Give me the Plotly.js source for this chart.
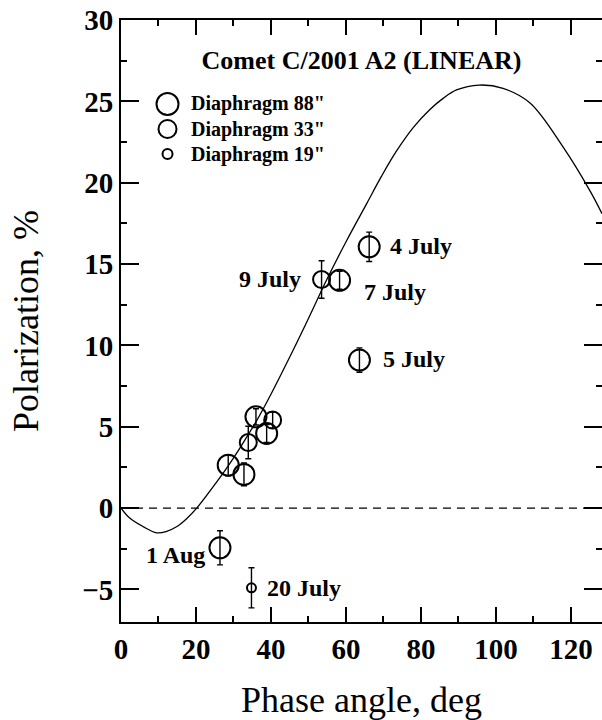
<!DOCTYPE html>
<html>
<head>
<meta charset="utf-8">
<script src="https://cdn.plot.ly/plotly-3.0.1.min.js"></script>
<style>html,body{margin:0;padding:0;background:#fff;}#chart{width:602px;height:720px;}</style>
</head>
<body>
<div id="chart"></div>
<script>
// ---- Data ----
// Model phase curve
const curveX = [0, 2.4, 6.0, 9.5, 12.0, 14.8, 17.5, 20.2, 25.5, 28.6, 32.0, 36.0, 40.0, 45.9, 50.4, 54.8, 60.2, 65.5, 69.5, 73.5, 78.0, 82.4, 86.0, 89.5, 95.5, 101.9, 109.1, 117.9, 125.1, 128.3];
const curveY = [0, -0.63, -1.15, -1.52, -1.45, -1.15, -0.65, 0, 1.6, 2.6, 3.8, 5.3, 7.0, 9.7, 11.85, 14.0, 16.45, 18.7, 20.4, 21.95, 23.4, 24.5, 25.2, 25.7, 26.0, 25.8, 24.9, 22.2, 19.5, 18.1];

// Observations, grouped by diaphragm
const d88X = [26.4, 66.2, 58.3, 63.6, 28.6, 32.8, 36.0, 38.85];
const d88Y = [-2.44, 16.06, 14.0, 9.1, 2.64, 2.07, 5.61, 4.59];
const d88E = [1.05, 0.9, 0.55, 0.75, 0.65, 0.7, 0.5, 0.55];

const d33X = [53.5, 33.95, 40.45];
const d33Y = [14.05, 4.03, 5.41];
const d33E = [1.15, 1.0, 0.5];

const d19X = [34.8];
const d19Y = [-4.9];
const d19E = [1.23];

const legendNames = ['Diaphragm 88"', 'Diaphragm 33"', 'Diaphragm 19"'];

// Date labels
const labelText = ['4 July', '9 July', '7 July', '5 July', '1 Aug', '20 July'];
const labelX = [71.2, 48.6, 64.3, 69.3, 23.0, 38.4];
const labelY = [16.1, 14.1, 13.3, 9.15, -2.9, -4.9];
const labelAnchor = ['left', 'right', 'left', 'left', 'right', 'left'];

// Axis ranges and tick spacing
const xRange = [0, 128.3], yRange = [-7, 30];
const xTick0 = 0, xDtick = 20, xMinorDtick = 10;
const yTick0 = 0, yDtick = 5, yMinorDtick = 2.5;

// ---- Styling ----
const SERIF = 'Liberation Serif, Times New Roman, serif';
const markerSizes = [21, 17, 9];

function obsTrace(x, y, e, size, name) {
  return {
    type: 'scatter', mode: 'markers', x: x, y: y, name: name, showlegend: false,
    marker: {symbol: 'circle-open', size: size, color: 'black', line: {color: 'black', width: 2}},
    error_y: {type: 'data', array: e, visible: true, color: 'black', thickness: 1.4, width: 3}
  };
}

const traces = [
  {type: 'scatter', mode: 'lines', x: curveX, y: curveY, showlegend: false,
   line: {color: 'black', width: 1.3, shape: 'spline', smoothing: 1}},
  obsTrace(d88X, d88Y, d88E, markerSizes[0], legendNames[0]),
  obsTrace(d33X, d33Y, d33E, markerSizes[1], legendNames[1]),
  obsTrace(d19X, d19Y, d19E, markerSizes[2], legendNames[2])
];

const annotations = labelText.map((t, i) => ({
  x: labelX[i], y: labelY[i], xref: 'x', yref: 'y', text: t, showarrow: false,
  xanchor: labelAnchor[i], yanchor: 'middle',
  font: {family: SERIF, size: 24, color: 'black', weight: 'bold'}
}));

// Legend (keys drawn as pixel-sized circles next to text)
const legRowY = [0.8605, 0.8189, 0.7774];
const legTextX = 0.1414;
const legKeyX = 0.0967;
const shapes = [
  {type: 'line', xref: 'paper', x0: 0, x1: 1, yref: 'y', y0: 0, y1: 0,
   line: {color: 'black', width: 1.2, dash: '8px,6px'}}
];
legendNames.forEach((n, i) => {
  annotations.push({x: legTextX, y: legRowY[i], xref: 'paper', yref: 'paper', text: n, showarrow: false,
    xanchor: 'left', yanchor: 'middle', font: {family: SERIF, size: 20, color: 'black', weight: 'bold'}});
  const r = (markerSizes[i] + 1) / 2;
  shapes.push({type: 'circle', xref: 'paper', yref: 'paper', xsizemode: 'pixel', ysizemode: 'pixel',
    xanchor: legKeyX, yanchor: legRowY[i], x0: -r, x1: r, y0: -r, y1: r,
    line: {color: 'black', width: 2}, fillcolor: 'rgba(0,0,0,0)'});
});

const layout = {
  width: 602, height: 720,
  margin: {l: 121, r: 0, t: 20, b: 98},
  paper_bgcolor: 'white', plot_bgcolor: 'white',
  showlegend: false,
  title: {text: 'Comet C/2001 A2 (LINEAR)', x: 0.5, xref: 'paper', xanchor: 'center',
          y: 1 - 60 / 720, yref: 'container', yanchor: 'middle',
          font: {family: SERIF, size: 26, color: 'black', weight: 'bold'}},
  xaxis: {
    range: xRange, tickmode: 'linear', tick0: xTick0, dtick: xDtick,
    ticks: 'inside', ticklen: 15, tickwidth: 2, tickcolor: 'black',
    showline: true, linecolor: 'black', linewidth: 2, mirror: 'ticks', showgrid: false, zeroline: false,
    minor: {dtick: xMinorDtick, ticks: 'inside', ticklen: 6, tickwidth: 2, tickcolor: 'black'},
    tickfont: {family: SERIF, size: 29, color: 'black', weight: 'bold'},
    title: {text: 'Phase angle, deg', font: {family: SERIF, size: 36, color: 'black'}}
  },
  yaxis: {
    range: yRange, tickmode: 'linear', tick0: yTick0, dtick: yDtick,
    ticks: 'inside', ticklen: 18, tickwidth: 2, tickcolor: 'black',
    showline: true, linecolor: 'black', linewidth: 2, mirror: 'ticks', showgrid: false, zeroline: false,
    minor: {dtick: yMinorDtick, ticks: 'inside', ticklen: 6, tickwidth: 2, tickcolor: 'black'},
    tickfont: {family: SERIF, size: 29, color: 'black', weight: 'bold'},
    title: {text: 'Polarization, %', font: {family: SERIF, size: 36, color: 'black'}}
  },
  annotations: annotations,
  shapes: shapes
};

Plotly.newPlot('chart', traces, layout, {staticPlot: true, displayModeBar: false});
</script>
</body>
</html>
